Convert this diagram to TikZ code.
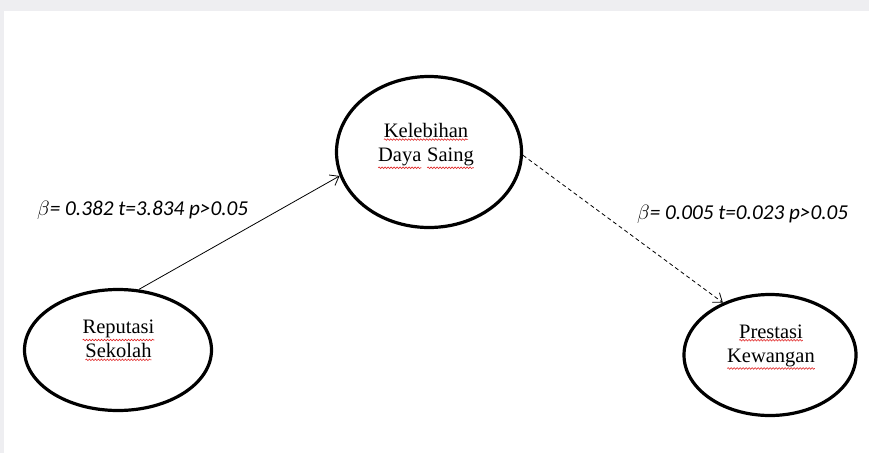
\documentclass[tikz,border=0pt]{standalone}
\usepackage{fontspec}
\setmainfont{Liberation Serif}
\newfontfamily\lblfont{Carlito}
\usetikzlibrary{shapes.geometric,arrows.meta,decorations.pathmorphing}
\definecolor{framegray}{RGB}{238,238,241}
\definecolor{spellred}{RGB}{225,40,40}
\newcommand\wv[1]{\tikz[baseline=(W.base)]{\node[inner sep=0pt,outer sep=0pt](W){#1};\draw[spellred,line width=0.6pt,decorate,decoration={snake,amplitude=0.8pt,segment length=3pt}]([yshift=-2pt]W.south west)--([yshift=-2pt]W.south east);}}
\tikzset{
  latent/.style={ellipse,draw=black,line width=3.2pt,inner sep=0pt},
  ntext/.style={inner sep=0pt,align=center,font=\fontsize{20.5}{24}\selectfont},
  coef/.style={inner sep=0pt,anchor=base west,font=\lblfont\itshape\fontsize{21.2}{24}\selectfont},
  path1/.style={line width=0.8pt,-{Straight Barb[length=8pt,width=12pt,line width=0.8pt]}},
  path2/.style={line width=0.8pt,dash pattern=on 4pt off 3pt,-{Straight Barb[length=8pt,width=12pt,line width=0.8pt]}}
}
\begin{document}
\begin{tikzpicture}[x=1pt,y=-1pt]
\useasboundingbox (0,0) rectangle (869,453);
\fill[framegray] (0,0) rectangle (869,453);
\fill[white] (4,11) rectangle (869,453);
\node[latent,minimum width=185pt,minimum height=151pt] (k) at (429,152) {};
\node[latent,minimum width=187pt,minimum height=121pt] (r) at (118,350) {};
\node[latent,minimum width=172pt,minimum height=121pt] (p) at (770,355) {};
\node[ntext] (kt) at (426,146) {\wv{Kelebihan}\\\wv{Daya} \wv{Saing}};
\node[ntext] (rt) at (118.5,340.5) {\wv{Reputasi}\\\wv{Sekolah}};
\node[ntext] (pt) at (771,347) {\wv{Prestasi}\\\wv{Kewangan}};
\draw[path1] (r.71) -- (k.195);
\draw[path2] (k.-2) -- (p.132);
\node[coef] (c1) at (37,215) {$\beta$= 0.382 t=3.834 p>0.05};
\node[coef] (c2) at (637,219) {$\beta$= 0.005 t=0.023 p>0.05};
\end{tikzpicture}
\end{document}
